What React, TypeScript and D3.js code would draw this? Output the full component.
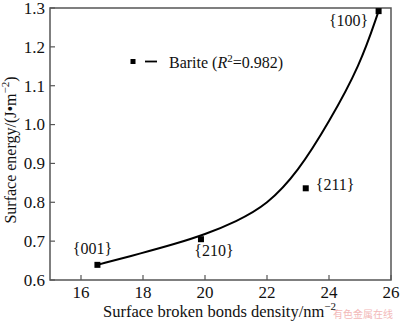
import React from "react";
import * as d3 from "d3";

const pointX = [16.53, 19.87, 23.25, 25.6];
const pointY = [0.639, 0.705, 0.836, 1.292];
const pointLabels = ["{001}", "{210}", "{211}", "{100}"];

const curveX = [16.53, 18.0, 19.0, 20.0, 21.0, 22.0, 23.0, 24.0, 25.0, 25.6];
const curveY = [0.639, 0.67, 0.692, 0.717, 0.75, 0.793, 0.878, 1.006, 1.152, 1.292];

const xTicks = [16, 18, 20, 22, 24, 26];
const yTicks = [0.6, 0.7, 0.8, 0.9, 1.0, 1.1, 1.2, 1.3];

const legendName = "Barite";
const legendR2 = "0.982";

const FONT = "Liberation Serif";

export default function App() {
  const left = 50, right = 391, top = 8, bottom = 280;
  const x = d3.scaleLinear().domain([15, 26]).range([left, right]);
  const y = d3.scaleLinear().domain([0.6, 1.3]).range([bottom, top]);
  const line = d3
    .line<number>()
    .x((_, i) => x(curveX[i]))
    .y((d) => y(d))
    .curve(d3.curveBasis);
  const frame = "#555";
  const ts = { fontFamily: FONT };
  const labelOffsets: [number, number, string][] = [
    [-5, -11, "middle"],
    [13, 17, "middle"],
    [10, 2, "start"],
    [-30, 15, "middle"],
  ];
  return (
    <svg
      width={400}
      height={322}
      style={{ position: "absolute", left: 0, top: 0, background: "#fff" }}
    >
      <rect x={0} y={0} width={400} height={322} fill="#fff" />
      <rect
        x={left}
        y={top}
        width={right - left}
        height={bottom - top}
        fill="none"
        stroke={frame}
        strokeWidth={1.5}
      />
      {xTicks.map((t) => (
        <g key={"x" + t}>
          <line x1={x(t)} x2={x(t)} y1={bottom} y2={bottom - 5} stroke={frame} strokeWidth={1.2} />
          <text x={x(t)} y={298} fontSize={17} textAnchor="middle" fill="#111" style={ts}>
            {t}
          </text>
        </g>
      ))}
      {yTicks.map((t) => (
        <g key={"y" + t}>
          <line x1={left} x2={left + 5} y1={y(t)} y2={y(t)} stroke={frame} strokeWidth={1.2} />
          <text x={45} y={y(t) + 5.8} fontSize={17} textAnchor="end" fill="#111" style={ts}>
            {t.toFixed(1)}
          </text>
        </g>
      ))}
      <path d={line(curveY) || ""} fill="none" stroke="#000" strokeWidth={2} />
      {pointX.map((px, i) => (
        <rect key={"p" + i} x={x(px) - 3} y={y(pointY[i]) - 3} width={6} height={6} fill="#000" />
      ))}
      {pointX.map((px, i) => (
        <text
          key={"l" + i}
          x={x(px) + labelOffsets[i][0]}
          y={y(pointY[i]) + labelOffsets[i][1]}
          fontSize={16}
          textAnchor={labelOffsets[i][2] as any}
          fill="#111"
          style={ts}
        >
          {pointLabels[i]}
        </text>
      ))}
      <rect x={130.5} y={59} width={5} height={5} fill="#000" />
      <line x1={145} x2={157} y1={61.5} y2={61.5} stroke="#000" strokeWidth={1.8} />
      <text x={169} y={68} fontSize={16} fill="#111" style={ts}>
        {legendName} (<tspan fontStyle="italic">R</tspan>
        <tspan dy={-6} fontSize={11}>2</tspan>
        <tspan dy={6}>={legendR2})</tspan>
      </text>
      <text x={103} y={317} fontSize={16.5} fill="#111" style={ts}>
        Surface broken bonds density/nm
        <tspan dy={-7} fontSize={11}>−2</tspan>
      </text>
      <text
        transform="translate(16,150) rotate(-90)"
        fontSize={16}
        textAnchor="middle"
        fill="#111"
        style={ts}
      >
        Surface energy/(J•m<tspan dy={-7} fontSize={11}>−2</tspan>
        <tspan dy={7}>)</tspan>
      </text>
      <text x={333} y={318} fontSize={10} fill="#f0a8a8" opacity={0.8} style={{ fontFamily: "Noto Sans CJK SC" }}>
        有色金属在线
      </text>
    </svg>
  );
}
